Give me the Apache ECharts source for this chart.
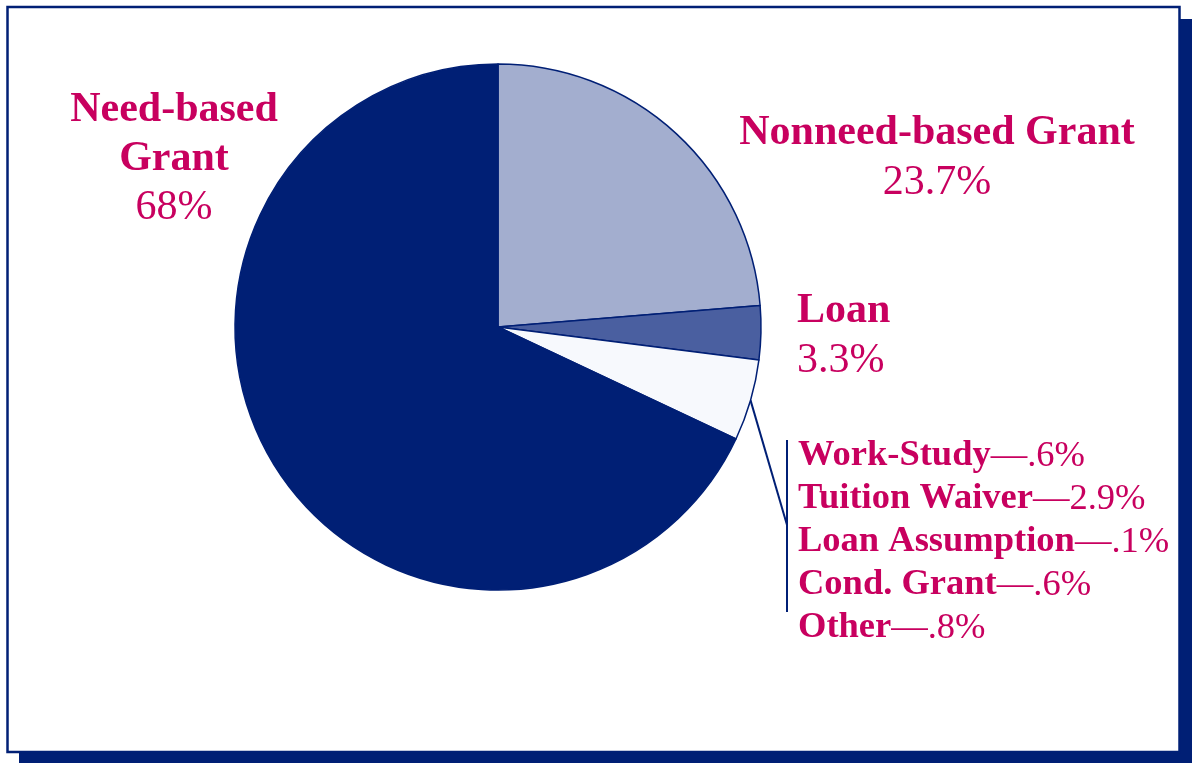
<!DOCTYPE html>
<html>
<head>
<meta charset="utf-8">
<script src="https://cdn.jsdelivr.net/npm/echarts@6/dist/echarts.min.js"></script>
<style>
html,body{margin:0;padding:0;background:#fff;}
#main{width:1192px;height:763px;}
</style>
</head>
<body>
<div id="main"></div>
<script>
// ---- data ----
var categories = ['Nonneed-based Grant', 'Loan', 'Other aid', 'Need-based Grant'];
var labelTitles = ['Nonneed-based Grant', 'Loan', '', 'Need-based\nGrant'];
var mainValues = [23.7, 3.3, null, 68];
var otherNames = ['Work-Study', 'Tuition Waiver', 'Loan Assumption', 'Cond. Grant', 'Other'];
var otherValues = [0.6, 2.9, 0.1, 0.6, 0.8];
var sliceColors = ['#a3aecf', '#4a5fa0', '#f7f9fd', '#001f75'];

var otherTotal = Math.round(otherValues.reduce(function (a, b) { return a + b; }, 0) * 10) / 10;
var values = mainValues.map(function (v) { return v === null ? otherTotal : v; });

function pct(v) { return String(v).replace(/^0\./, '.') + '%'; }

// label positions (layout, not data)
var labelPos = [
  { x: 937, y: 158, align: 'center' },
  { x: 797, y: 336, align: 'left' },
  { x: 798, y: 542, align: 'left' },
  { x: 174, y: 159, align: 'center' }
];

var data = categories.map(function (c, i) {
  var fmt;
  if (i === 2) {
    fmt = otherNames.map(function (n, k) {
      return '{sb|' + n + '}{sr|\u2014' + pct(otherValues[k]) + '}';
    }).join('\n');
  } else {
    fmt = labelTitles[i].split('\n').map(function (t) { return '{b|' + t + '}'; }).join('\n') +
      '\n{r|' + pct(values[i]) + '}';
  }
  return {
    name: c,
    value: values[i],
    itemStyle: { color: sliceColors[i] },
    label: { formatter: fmt },
    labelLine: { show: i === 2 }
  };
});

var chart = echarts.init(document.getElementById('main'), null, { renderer: 'canvas' });
var textColor = '#c8005f';
chart.setOption({
  animation: false,
  graphic: [
    { type: 'rect', z: -10, shape: { x: 19, y: 19, width: 1173, height: 744 }, style: { fill: '#001f75' } },
    { type: 'rect', z: -9, shape: { x: 7.5, y: 7, width: 1172, height: 745 }, style: { fill: '#ffffff', stroke: '#001f75', lineWidth: 2.5 } },
    { type: 'line', z: 5, shape: { x1: 787, y1: 440, x2: 787, y2: 612 }, style: { stroke: '#001f75', lineWidth: 2 } }
  ],
  series: [{
    type: 'pie',
    center: [498, 327],
    radius: 263,
    startAngle: 90,
    clockwise: true,
    emphasis: { disabled: true },
    itemStyle: { borderColor: '#001f75', borderWidth: 1.5 },
    label: {
      show: true,
      position: 'outside',
      color: textColor,
      fontFamily: 'Liberation Serif',
      rich: {
        b: { fontFamily: 'Liberation Serif', fontWeight: 'bold', fontSize: 42, lineHeight: 49, color: textColor },
        r: { fontFamily: 'Liberation Serif', fontWeight: 'normal', fontSize: 42, lineHeight: 49, color: textColor },
        sb: { fontFamily: 'Liberation Serif', fontWeight: 'bold', fontSize: 36.5, lineHeight: 43, color: textColor },
        sr: { fontFamily: 'Liberation Serif', fontWeight: 'normal', fontSize: 36.5, lineHeight: 43, color: textColor }
      }
    },
    labelLine: { lineStyle: { color: '#001f75', width: 2 } },
    labelLayout: function (params) {
      var p = labelPos[params.dataIndex];
      var out = { x: p.x, y: p.y, align: p.align, verticalAlign: 'middle' };
      if (params.dataIndex === 2 && params.labelLinePoints) {
        var s = params.labelLinePoints[0];
        out.labelLinePoints = [s, [787, 525], [787, 525]];
      }
      return out;
    },
    data: data
  }]
});
</script>
</body>
</html>
